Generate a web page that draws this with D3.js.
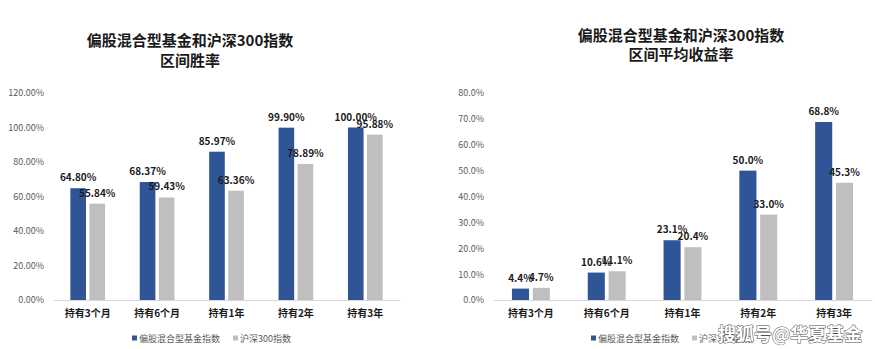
<!DOCTYPE html>
<html>
<head>
<meta charset="utf-8">
<script src="https://cdn.jsdelivr.net/npm/d3@7/dist/d3.min.js"></script>
<style>
  html, body { margin: 0; padding: 0; background: #fff; }
  svg { display: block; font-family: "Noto Sans CJK SC", "Noto Sans", sans-serif; }
</style>
</head>
<body>
<svg id="chart" width="875" height="349"></svg>
<script>
// Holding periods shared by both panels
const categories = ["持有3个月", "持有6个月", "持有1年", "持有2年", "持有3年"];
const seriesNames = ["偏股混合型基金指数", "沪深300指数"];
const seriesColors = ["#2F5597", "#BFBFBF"];

// Win rate (%)
const winFund  = [64.80, 68.37, 85.97, 99.90, 100.00];
const winIndex = [55.84, 59.43, 63.36, 78.89, 95.88];
const winTicks = [0, 20, 40, 60, 80, 100, 120];

// Average return (%)
const retFund  = [4.4, 10.6, 23.1, 50.0, 68.8];
const retIndex = [4.7, 11.1, 20.4, 33.0, 45.3];
const retTicks = [0, 10, 20, 30, 40, 50, 60, 70, 80];

const svg = d3.select("#chart");

function panel(cfg) {
  const g = svg.append("g");
  const x = d3.scaleBand().domain(categories).range([cfg.x0, cfg.x1]).padding(0);
  const bw = x.bandwidth();
  const xs = d3.scaleBand().domain([0, 1])
    .range([bw * 0.25, bw * 0.75]).paddingInner(0.18).paddingOuter(0);
  const y = d3.scaleLinear().domain([0, cfg.max]).range([cfg.y0, cfg.yTop]);

  // title
  const t = g.append("text")
    .attr("x", cfg.titleX).attr("y", cfg.titleY)
    .attr("text-anchor", "middle")
    .attr("font-size", 15).attr("font-weight", 700).attr("fill", "#1a1a1a");
  cfg.title.forEach((line, i) => {
    t.append("tspan").attr("x", cfg.titleX).attr("dy", i === 0 ? 0 : 19.5).text(line);
  });

  // y axis labels (no line, no ticks)
  const yAxis = d3.axisLeft(y).tickValues(cfg.ticks).tickSize(0).tickPadding(0)
    .tickFormat(d => d.toFixed(cfg.decimals) + "%");
  const ya = g.append("g").attr("transform", `translate(${cfg.labelX},0)`).call(yAxis);
  ya.select(".domain").remove();
  ya.selectAll("text")
    .attr("font-family", "'Noto Sans CJK SC', sans-serif")
    .attr("font-size", 9).attr("fill", "#595959");

  // x axis baseline and category labels
  const xAxis = d3.axisBottom(x).tickSize(0).tickPadding(10);
  const xa = g.append("g").attr("transform", `translate(0,${cfg.y0})`).call(xAxis);
  xa.select(".domain").attr("stroke", "#D9D9D9").attr("stroke-width", 1);
  xa.selectAll("text")
    .attr("font-family", "'Noto Sans CJK SC', sans-serif")
    .attr("font-size", 10).attr("font-weight", 700).attr("fill", "#1a1a1a");

  // bars + value labels
  const series = [cfg.a, cfg.b];
  series.forEach((vals, si) => {
    const rows = categories.map((c, i) => ({ c, v: vals[i] }));
    g.append("g").selectAll("rect").data(rows).join("rect")
      .attr("x", d => x(d.c) + xs(si))
      .attr("width", xs.bandwidth())
      .attr("y", d => y(d.v))
      .attr("height", d => y(0) - y(d.v))
      .attr("fill", seriesColors[si]);
    g.append("g").selectAll("text").data(rows).join("text")
      .attr("x", d => x(d.c) + xs(si) + xs.bandwidth() / 2)
      .attr("y", d => y(d.v) - 7)
      .attr("text-anchor", "middle")
      .attr("font-size", 10).attr("font-weight", 700).attr("fill", "#1a1a1a")
      .text(d => d.v.toFixed(cfg.labelDecimals) + "%");
  });

  // legend
  const lg = g.append("g").attr("transform", `translate(${cfg.legendX},${cfg.legendY})`);
  let off = 0;
  seriesNames.forEach((name, i) => {
    lg.append("rect").attr("x", off).attr("y", -2.5).attr("width", 5).attr("height", 5)
      .attr("fill", seriesColors[i]);
    const tx = lg.append("text").attr("x", off + 7).attr("y", 0)
      .attr("dominant-baseline", "central")
      .attr("font-size", 9).attr("fill", "#595959").text(name);
    off += tx.node().getComputedTextLength() + 7 + 13;
  });
}

panel({
  title: ["偏股混合型基金和沪深300指数", "区间胜率"],
  titleX: 190, titleY: 46,
  x0: 53, x1: 400, y0: 300, yTop: 93, max: 120,
  ticks: winTicks, decimals: 2, labelDecimals: 2, labelX: 44,
  a: winFund, b: winIndex,
  legendX: 132, legendY: 338
});

panel({
  title: ["偏股混合型基金和沪深300指数", "区间平均收益率"],
  titleX: 681, titleY: 40.5,
  x0: 493, x1: 872, y0: 300, yTop: 93, max: 80,
  ticks: retTicks, decimals: 1, labelDecimals: 1, labelX: 484,
  a: retFund, b: retIndex,
  legendX: 591, legendY: 338
});

// publisher mark in the lower right corner
svg.append("text")
  .attr("x", 718).attr("y", 341)
  .attr("font-size", 18).attr("font-weight", 700)
  .attr("fill", "#ffffff").attr("stroke", "#4d4d4d").attr("stroke-width", 1)
  .attr("paint-order", "stroke")
  .text("搜狐号@华夏基金");
</script>
</body>
</html>
